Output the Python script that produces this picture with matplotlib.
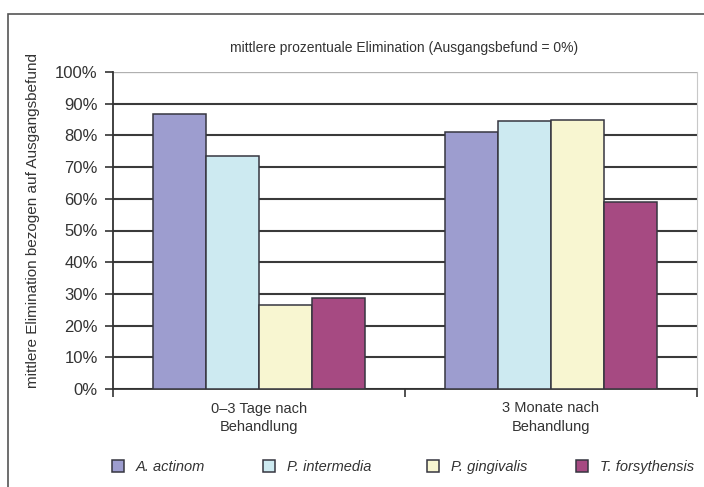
import matplotlib.pyplot as plt
import numpy as np
from matplotlib.patches import Rectangle
from matplotlib.ticker import PercentFormatter, FixedLocator

plt.rcParams['font.family'] = ['Liberation Sans', 'DejaVu Sans']

# data
zeitpunkte = ['0–3 Tage nach\nBehandlung', '3 Monate nach\nBehandlung']
keime = ['A. actinom', 'P. intermedia', 'P. gingivalis', 'T. forsythensis']
a_actinom = [86.7, 81.2]
p_intermedia = [73.6, 84.4]
p_gingivalis = [26.5, 84.8]
t_forsythensis = [28.8, 59.0]
farben = ['#9d9dcf', '#cdeaf1', '#f8f6d1', '#a64a82']

werte = [a_actinom, p_intermedia, p_gingivalis, t_forsythensis]

fig = plt.figure(figsize=[7.04, 4.87], dpi=100)
ax = fig.add_axes([113/704, 1-389/487, (697-113)/704, (389-72)/487])

x = np.arange(len(zeitpunkte))
breite = 0.181
balken = []
for k in range(len(keime)):
    b = ax.bar(x + (k - 1.5)*breite, werte[k], breite, color=farben[k],
               edgecolor='#363640', linewidth=1.1, label=keime[k], zorder=3)
    balken.append(b)

ax.set_xlim(-0.5, 1.5)
ax.set_ylim(0, 100)
ax.yaxis.set_major_locator(FixedLocator(np.arange(0, 101, 10)))
ax.yaxis.set_major_formatter(PercentFormatter(decimals=0))
ax.grid(axis='y', color='#3a3a3a', linewidth=1.5, zorder=1)
ax.axhline(100, color='#b0b0b0', linewidth=1.5, zorder=2)

ax.set_xticks(x)
ax.set_xticklabels(zeitpunkte, fontsize=10.5, color='#333333', linespacing=1.4)
ax.xaxis.set_minor_locator(FixedLocator([-0.5, 0.5, 1.5]))
ax.tick_params(axis='x', which='major', length=0, pad=9)
ax.tick_params(axis='x', which='minor', length=6, width=1.2, color='#333333')
ax.tick_params(axis='y', length=6, width=1.2, color='#333333',
               labelsize=12, labelcolor='#333333', pad=5)

ax.spines['top'].set_visible(False)
ax.spines['right'].set_color('#c8c8c8')
ax.spines['left'].set_color('#333333')
ax.spines['bottom'].set_color('#333333')
ax.spines['left'].set_linewidth(1.3)
ax.spines['bottom'].set_linewidth(1.3)

fig.text(404/704, 1-48/487, 'mittlere prozentuale Elimination (Ausgangsbefund = 0%)',
         ha='center', va='center', fontsize=10, color='#333333')
fig.text(33/704, 1-220/487, 'mittlere Elimination bezogen auf Ausgangsbefund',
         rotation=90, ha='center', va='center', fontsize=11, color='#333333')

# legend entries below the axes
leg_x = [112, 263, 427, 576]
for k in range(len(keime)):
    leg = fig.legend([balken[k]], [keime[k]], loc='center left',
                     bbox_to_anchor=(leg_x[k]/704, 1-467/487), frameon=False,
                     borderpad=0, borderaxespad=0,
                     handlelength=0.85, handleheight=0.85, handletextpad=0.8,
                     prop={'style': 'italic', 'size': 10.5}, labelcolor='#333333')

# outer frame
fig.patches.append(Rectangle((8/704, -0.1), 1.1, 1-14/487+0.1, transform=fig.transFigure,
                             fill=False, edgecolor='#555555', linewidth=1.2))

fig.savefig('out.png', dpi=100)
